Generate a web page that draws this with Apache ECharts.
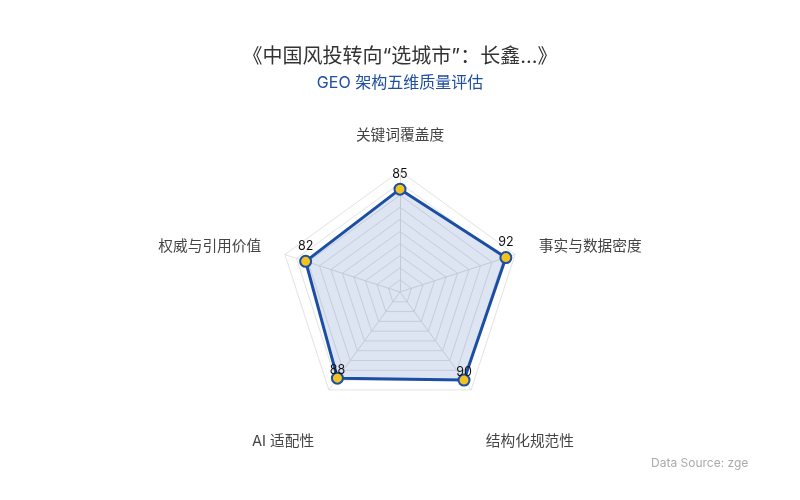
<!DOCTYPE html>
<html><head><meta charset="utf-8">
<script src="https://cdn.jsdelivr.net/npm/echarts@6/dist/echarts.min.js"></script>
<style>html,body{margin:0;padding:0;background:#fff}#c{width:800px;height:500px}</style>
</head><body><div id="c"></div>
<script>
const titleText = '《中国风投转向“选城市”：长鑫...》';
const subtitleText = 'GEO 架构五维质量评估';
// listed in ECharts drawing order (counter-clockwise from the top)
const indicators = ['关键词覆盖度', '权威与引用价值', 'AI 适配性', '结构化规范性', '事实与数据密度'];
const maxValues = [100, 100, 100, 100, 100];
const scores = [85, 82, 88, 90, 92];
const sourceText = 'Data Source: zgeo.ai';
const lowerNames = ['AI 适配性', '结构化规范性'];

const chart = echarts.init(document.getElementById('c'));
chart.setOption({
  backgroundColor: '#fff',
  title: [{
    text: titleText,
    subtext: subtitleText,
    left: 'center',
    top: 42,
    itemGap: 8,
    textStyle: { fontSize: 20, fontWeight: 'normal', color: '#333', fontFamily: 'Inter, "Noto Sans CJK SC", sans-serif' },
    subtextStyle: { fontSize: 16, color: '#1f4ea3', fontFamily: 'Inter, "Noto Sans CJK SC", sans-serif' }
  }, {
    text: sourceText,
    left: 646,
    top: 452,
    textStyle: { fontSize: 12, fontWeight: 'normal', color: '#aaa', width: 100, overflow: 'truncate', ellipsis: '', fontFamily: 'Inter, sans-serif' }
  }],
  radar: {
    center: ['50%', '58.4%'],
    radius: 121,
    shape: 'polygon',
    splitNumber: 10,
    indicator: indicators.map((n, i) => ({ name: n, max: maxValues[i] })),
    axisName: {
      color: '#444', fontSize: 14.7, lineHeight: 21,
      fontFamily: 'Inter, "Noto Sans CJK SC", sans-serif',
      formatter: (name) => lowerNames.indexOf(name) >= 0 ? '\n\n\n' + name : name
    },
    nameGap: 25,
    splitLine: { lineStyle: { color: '#e3e3e3', width: 1 } },
    splitArea: { show: false },
    axisLine: { lineStyle: { color: '#e0e0e0' } }
  },
  series: [{
    type: 'radar',
    symbol: 'circle',
    symbolSize: 11,
    data: [{
      value: scores,
      label: { show: true, position: 'top', distance: 2, color: '#111', fontSize: 12.5, fontFamily: 'Inter, sans-serif' }
    }],
    labelLayout: (p) => (p.rect && p.rect.y > 340) ? { dy: 7 } : {},
    lineStyle: { color: '#1b4fa3', width: 3 },
    areaStyle: { color: 'rgba(30,80,170,0.22)' },
    itemStyle: { color: '#f2c320', borderColor: '#1b4fa3', borderWidth: 2 }
  }]
});
</script></body></html>
